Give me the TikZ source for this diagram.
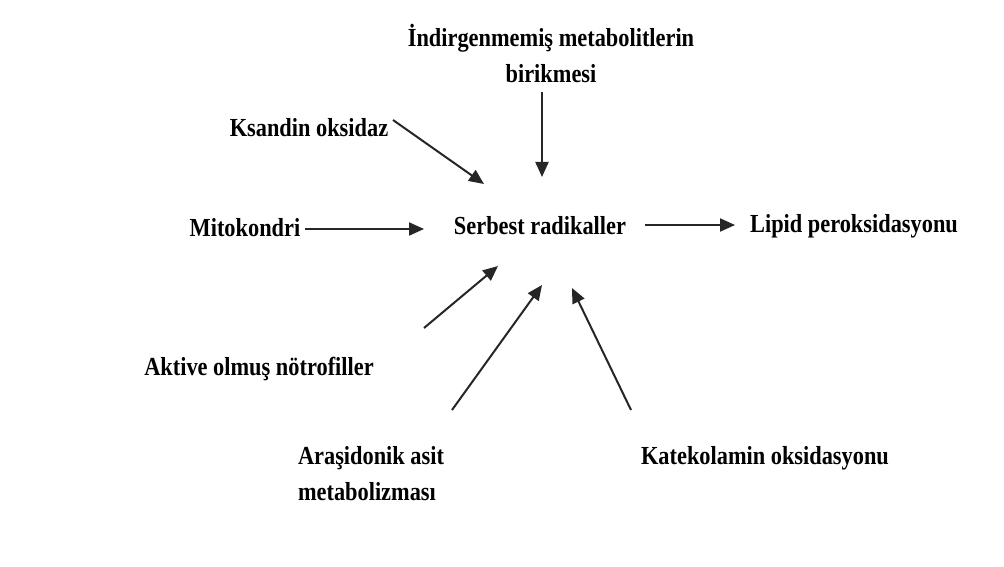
\documentclass[tikz,border=0pt]{standalone}
\usepackage{fontspec}
\setmainfont{Liberation Serif}[FakeStretch=0.86]
\usepackage{tikz}
\usetikzlibrary{arrows.meta}

\begin{document}
\begin{tikzpicture}[
x=1pt, y=-1pt,
lbl/.style={font=\fontsize{26}{36}\selectfont\bfseries, inner sep=0pt, align=center},
arrow/.style={-{Triangle[length=15pt, width=13pt]}, line width=2pt, black!85}
]
\useasboundingbox[fill=white] (0,0) rectangle (1004,567);
% labels
\node[lbl] (center) at (540,226) {Serbest radikaller};
\node[lbl] (accum) at (551,53) {İndirgenmemiş metabolitlerin\\birikmesi};
\node[lbl] (xo) at (309,128) {Ksandin oksidaz};
\node[lbl] (mito) at (245,228) {Mitokondri};
\node[lbl] (lipid) at (854,226) {Lipid peroksidasyonu};
\node[lbl] (neutro) at (259,369) {Aktive olmuş nötrofiller};
\node[lbl, align=left] (arach) at (371,474) {Araşidonik asit\\metabolizması};
\node[lbl] (cat) at (765,458) {Katekolamin oksidasyonu};
% arrow ends
\coordinate (a1) at (542,92);   \coordinate (b1) at (542,177);
\coordinate (a2) at (393,120);  \coordinate (b2) at (484,184);
\coordinate (a3) at (305,229);  \coordinate (b3) at (424,229);
\coordinate (a4) at (645,225);  \coordinate (b4) at (735,225);
\coordinate (a5) at (424,328);  \coordinate (b5) at (498,266);
\coordinate (a6) at (452,410);  \coordinate (b6) at (542,285);
\coordinate (a7) at (631,410);  \coordinate (b7) at (572,288);
\draw[arrow] (a1) -- (b1);
\draw[arrow] (a2) -- (b2);
\draw[arrow] (a3) -- (b3);
\draw[arrow] (a4) -- (b4);
\draw[arrow] (a5) -- (b5);
\draw[arrow] (a6) -- (b6);
\draw[arrow] (a7) -- (b7);
\end{tikzpicture}
\end{document}
